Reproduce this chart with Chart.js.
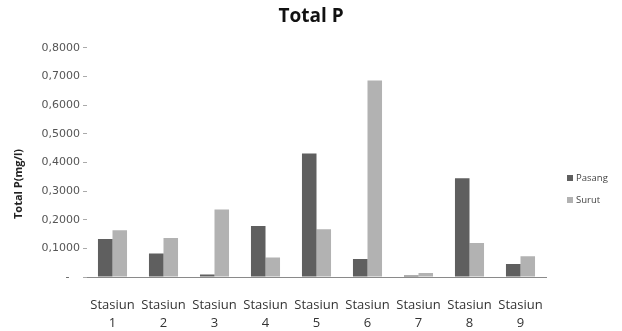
<html>
<head>
	<title>Total P</title>
	<style>
		html, body { margin: 0; padding: 0; background: #fff; }
		#wrap { width: 622px; height: 331px; }
	</style>
</head>
<body>
	<div id="wrap"><canvas id="chart"></canvas></div>
	<script src="https://cdn.jsdelivr.net/npm/chart.js"></script>
	<script>
		// kadar Total P per stasiun (mg/l)
		const stations = ['1', '2', '3', '4', '5', '6', '7', '8', '9'];
		const pasang = [0.133, 0.082, 0.009, 0.178, 0.431, 0.063, 0.005, 0.345, 0.045];
		const surut = [0.163, 0.136, 0.236, 0.068, 0.167, 0.686, 0.014, 0.119, 0.072];
		const yTicks = [0, 0.1, 0.2, 0.3, 0.4, 0.5, 0.6, 0.7, 0.8];

		Chart.defaults.font.family = '"Open Sans", sans-serif';

		// legend on the right, drawn by hand so it sits where we want it
		const sideLegend = {
			id: 'sideLegend',
			afterDraw(chart) {
				const ctx = chart.ctx;
				ctx.save();
				chart.data.datasets.forEach((ds, i) => {
					const y = 178 + i * 22;
					ctx.fillStyle = ds.backgroundColor;
					ctx.fillRect(567, y - 3, 6, 6);
					ctx.fillStyle = '#444';
					ctx.font = '9.5px "Open Sans"';
					ctx.textBaseline = 'middle';
					ctx.textAlign = 'left';
					ctx.fillText(ds.label, 576, y);
				});
				ctx.restore();
			}
		};

		// y axis title, a bit lower than the scale centre
		const yTitle = {
			id: 'yTitle',
			afterDraw(chart) {
				const ctx = chart.ctx;
				ctx.save();
				ctx.translate(19, 184);
				ctx.rotate(-Math.PI / 2);
				ctx.font = 'bold 11px "Open Sans"';
				ctx.fillStyle = '#222';
				ctx.textAlign = 'center';
				ctx.textBaseline = 'middle';
				ctx.fillText('Total P(mg/l)', 0, 0);
				ctx.restore();
			}
		};

		new Chart(document.getElementById('chart'), {
			type: 'bar',
			data: {
				labels: stations.map(s => ['Stasiun', s]),
				datasets: [{
					label: 'Pasang',
					data: pasang,
					backgroundColor: '#5f5f5f'
				}, {
					label: 'Surut',
					data: surut,
					backgroundColor: '#b2b2b2'
				}]
			},
			options: {
				responsive: true,
				maintainAspectRatio: false,
				animation: false,
				layout: { padding: 0 },
				datasets: {
					bar: { categoryPercentage: 0.57, barPercentage: 1.0 }
				},
				plugins: {
					legend: { display: false },
					tooltip: { enabled: false },
					title: {
						display: true,
						text: 'Total P',
						color: '#111',
						font: { size: 19, weight: 'bold' },
						padding: { top: 5, bottom: 20 }
					}
				},
				scales: {
					x: {
						afterFit: scale => { scale.height = 54; },
						grid: { display: false, drawTicks: false },
						border: { display: true, color: '#8a8a8a', width: 1 },
						ticks: {
							color: '#333',
							font: { size: 13, lineHeight: 1.35 },
							padding: 20,
							maxRotation: 0,
							autoSkip: false
						}
					},
					y: {
						min: 0,
						max: 0.8,
						afterFit: scale => { scale.width = 87; },
						afterBuildTicks: scale => { scale.ticks = yTicks.map(v => ({ value: v })); },
						grid: { drawOnChartArea: false, tickLength: 4, color: '#aaa' },
						border: { display: false },
						ticks: {
							color: '#555',
							padding: 3,
							font: { family: '"DejaVu Sans"', size: 11 },
							callback: v => v === 0 ? '-   ' : v.toFixed(4).replace('.', ',')
						}
					},
					// empty axis that reserves room for the legend
					legendSpace: {
						axis: 'y',
						position: 'right',
						afterFit: scale => { scale.width = 76; },
						grid: { display: false, drawTicks: false },
						border: { display: false },
						ticks: { display: false }
					}
				}
			},
			plugins: [sideLegend, yTitle]
		});
	</script>
</body>
</html>
